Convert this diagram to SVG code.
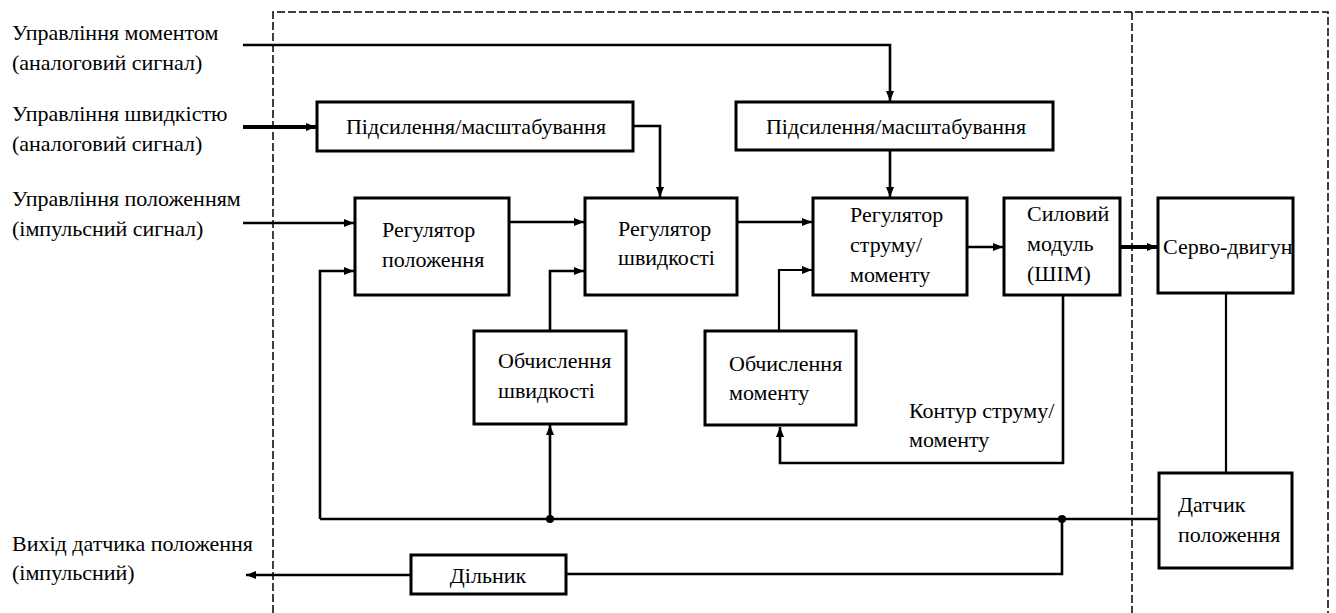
<svg xmlns="http://www.w3.org/2000/svg" width="1336" height="613" viewBox="0 0 1336 613">
<style>
.box{fill:#fff;stroke:#000;stroke-width:3}
.ln{fill:none;stroke:#000;stroke-width:2.6}
.thin{fill:none;stroke:#000;stroke-width:2.2}
.thick{fill:none;stroke:#000;stroke-width:4}
.dash{fill:none;stroke:#000;stroke-width:1.5;stroke-dasharray:8 3}
.c{text-anchor:middle}
</style>
<defs>
<marker id="ar" viewBox="0 0 10 8" refX="10" refY="4" markerWidth="10" markerHeight="8" markerUnits="userSpaceOnUse" orient="auto">
<path d="M0,0 L10,4 L0,8 z" fill="#000"/>
</marker>
</defs>
<rect width="1336" height="613" fill="#fff"/>
<g id="boundary">
<path class="dash" d="M273,613 V12 H1328 V613"/>
<path class="dash" d="M1132,12 V613"/>
</g>
<g id="connectors">
<path class="ln" d="M243,45 H890 V101" marker-end="url(#ar)"/>
<path class="thick" d="M243,127 H316" marker-end="url(#ar)"/>
<path class="ln" d="M633,126 H660 V197" marker-end="url(#ar)"/>
<path class="ln" d="M890,151 V197" marker-end="url(#ar)"/>
<path class="ln" d="M243,223 H354" marker-end="url(#ar)"/>
<path class="ln" d="M509,222 H584" marker-end="url(#ar)"/>
<path class="ln" d="M737,222 H812" marker-end="url(#ar)"/>
<path class="ln" d="M967,247 H1003" marker-end="url(#ar)"/>
<path class="thick" d="M1120,247 H1157" marker-end="url(#ar)"/>
<path class="ln" d="M320,519 V271 H354" marker-end="url(#ar)"/>
<path class="ln" d="M550,331 V271 H584" marker-end="url(#ar)"/>
<path class="thin" d="M779,331 V270 H812" marker-end="url(#ar)"/>
<path class="ln" d="M1063,295 V463 H780 V427" marker-end="url(#ar)"/>
<path class="ln" d="M320,519 H1159"/>
<path class="ln" d="M550,519 V425" marker-end="url(#ar)"/>
<path class="ln" d="M1062,519 V574 H566"/>
<path class="ln" d="M411,575 H246" marker-end="url(#ar)"/>
<path class="thin" d="M1226,293 V473"/>
<circle cx="550" cy="519" r="4" fill="#000"/>
<circle cx="1062" cy="519" r="4" fill="#000"/>
</g>
<g font-family="Liberation Serif, serif" font-size="22" fill="#000">
<g id="labels">
<text x="12" y="40">Управління моментом</text>
<text x="12" y="70">(аналоговий сигнал)</text>
<text x="12" y="121">Управління швидкістю</text>
<text x="12" y="151">(аналоговий сигнал)</text>
<text x="12" y="206">Управління положенням</text>
<text x="12" y="236">(імпульсний сигнал)</text>
<text x="12" y="551">Вихід датчика положення</text>
<text x="12" y="580">(імпульсний)</text>
<text x="909" y="418">Контур струму/</text>
<text x="909" y="447">моменту</text>
</g>
<g id="amp1"><rect class="box" x="317" y="102" width="316" height="49"/><text class="c" x="476" y="134">Підсилення/масштабування</text></g>
<g id="amp2"><rect class="box" x="736" y="102" width="317" height="48"/><text class="c" x="896" y="134">Підсилення/масштабування</text></g>
<g id="posreg"><rect class="box" x="355" y="198" width="154" height="97"/><text x="382" y="237">Регулятор</text><text x="382" y="267">положення</text></g>
<g id="speedreg"><rect class="box" x="585" y="198" width="152" height="97"/><text x="618" y="236">Регулятор</text><text x="618" y="265">швидкості</text></g>
<g id="currreg"><rect class="box" x="813" y="198" width="154" height="97"/><text x="850" y="222">Регулятор</text><text x="850" y="252">струму/</text><text x="850" y="282">моменту</text></g>
<g id="power"><rect class="box" x="1004" y="198" width="116" height="97"/><text x="1027" y="221">Силовий</text><text x="1027" y="251">модуль</text><text x="1027" y="281">(ШІМ)</text></g>
<g id="servo"><rect class="box" x="1158" y="198" width="135" height="95"/><text x="1163" y="254">Серво-двигун</text></g>
<g id="speedcalc"><rect class="box" x="474" y="331" width="152" height="93"/><text x="498" y="368">Обчислення</text><text x="498" y="398">швидкості</text></g>
<g id="torquecalc"><rect class="box" x="705" y="331" width="151" height="94"/><text x="729" y="371">Обчислення</text><text x="729" y="400">моменту</text></g>
<g id="sensor"><rect class="box" x="1159" y="473" width="133" height="95"/><text x="1178" y="512">Датчик</text><text x="1178" y="542">положення</text></g>
<g id="divider"><rect class="box" x="411" y="555" width="155" height="39"/><text class="c" x="488" y="583">Дільник</text></g>
</g>
</svg>
